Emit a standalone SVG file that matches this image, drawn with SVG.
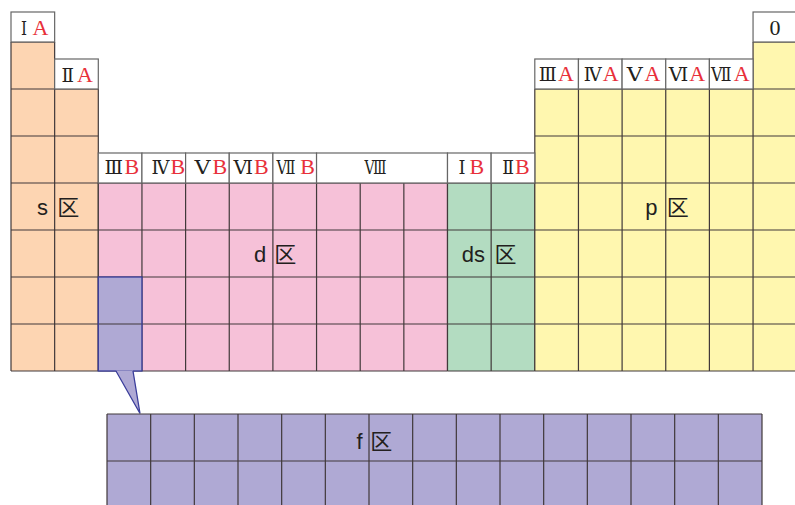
<svg xmlns="http://www.w3.org/2000/svg" width="795" height="505" viewBox="0 0 795 505">
  <style>
    .s { fill: #FDD5B2; }
    .d { fill: #F6C1D8; }
    .ds { fill: #B3DCC1; }
    .p { fill: #FFF7AF; }
    .f { fill: #AFA9D4; }
    .grid { fill: none; stroke: #41393a; stroke-width: 1.2; }
    .hdr { fill: #ffffff; stroke: #666666; stroke-width: 1.2; }
    .h { font-family: "Liberation Serif", "Times New Roman", serif; font-size: 22px; fill: #231f20; }
    .num { font-family: "DejaVu Serif", "Liberation Serif", serif; font-size: 19px; fill: #231f20; }
    .grp { fill: #e8303a; }
    .lbl { font-family: "Liberation Sans", "Noto Sans CJK SC", sans-serif; font-size: 22px; fill: #231f20; }
    .blue { fill: none; stroke: #3a3d9b; stroke-width: 1.3; }
  </style>

  <!-- s block -->
  <g id="s-block">
    <polygon class="s" points="11,42 54.65,42 54.65,89 98.3,89 98.3,371 11,371"/>
    <path class="grid" d="M11,42V371M54.65,42V371M98.3,89V371
      M11,42H54.65M11,89H98.3M11,136H98.3M11,183H98.3M11,230H98.3M11,277H98.3M11,324H98.3M11,371H98.3"/>
    <text class="lbl" x="37" y="215">s <tspan dx="3">区</tspan></text>
  </g>

  <!-- d block -->
  <g id="d-block">
    <rect class="d" x="98.3" y="183" width="349.2" height="188"/>
    <path class="grid" d="M98.3,183V371M141.95,183V371M185.6,183V371M229.25,183V371M272.9,183V371M316.55,183V371M360.2,183V371M403.85,183V371M447.5,183V371
      M98.3,183H447.5M98.3,230H447.5M98.3,277H447.5M98.3,324H447.5M98.3,371H447.5"/>
    <text class="lbl" x="254" y="262">d <tspan dx="2">区</tspan></text>
  </g>

  <!-- ds block -->
  <g id="ds-block">
    <rect class="ds" x="447.5" y="183" width="87.3" height="188"/>
    <path class="grid" d="M447.5,183V371M491.15,183V371M534.8,183V371
      M447.5,183H534.8M447.5,230H534.8M447.5,277H534.8M447.5,324H534.8M447.5,371H534.8"/>
    <text class="lbl" x="461.7" y="262">ds <tspan dx="3.5">区</tspan></text>
  </g>

  <!-- p block -->
  <g id="p-block">
    <polygon class="p" points="534.8,89 753.05,89 753.05,42 796.7,42 796.7,371 534.8,371"/>
    <path class="grid" d="M534.8,89V371M578.45,89V371M622.1,89V371M665.75,89V371M709.4,89V371M753.05,42V371
      M753.05,42H796.7M534.8,89H796.7M534.8,136H796.7M534.8,183H796.7M534.8,230H796.7M534.8,277H796.7M534.8,324H796.7M534.8,371H796.7"/>
    <text class="lbl" x="645.3" y="215">p <tspan dx="3">区</tspan></text>
  </g>

  <!-- lanthanide / actinide cells in group IIIB -->
  <g id="la-ac">
    <rect class="f" x="98.3" y="277" width="43.65" height="94"/>
    <path class="grid" d="M98.3,324H141.95"/>
    <rect class="blue" x="98.3" y="277" width="43.65" height="94"/>
  </g>

  <!-- group headers: roman numeral followed by the red subgroup letter -->
  <g id="headers">
    <rect class="hdr" x="11" y="12" width="43.65" height="30"/>
    <rect class="hdr" x="54.65" y="59" width="43.65" height="30"/>
    <rect class="hdr" x="98.3" y="153" width="43.65" height="30"/>
    <rect class="hdr" x="141.95" y="153" width="43.65" height="30"/>
    <rect class="hdr" x="185.6" y="153" width="43.65" height="30"/>
    <rect class="hdr" x="229.25" y="153" width="43.65" height="30"/>
    <rect class="hdr" x="272.9" y="153" width="43.65" height="30"/>
    <rect class="hdr" x="316.55" y="153" width="130.95" height="30"/>
    <rect class="hdr" x="447.5" y="153" width="43.65" height="30"/>
    <rect class="hdr" x="491.15" y="153" width="43.65" height="30"/>
    <rect class="hdr" x="534.8" y="59" width="43.65" height="30"/>
    <rect class="hdr" x="578.45" y="59" width="43.65" height="30"/>
    <rect class="hdr" x="622.1" y="59" width="43.65" height="30"/>
    <rect class="hdr" x="665.75" y="59" width="43.65" height="30"/>
    <rect class="hdr" x="709.4" y="59" width="43.65" height="30"/>
    <rect class="hdr" x="753.05" y="12" width="43.65" height="30"/>

    <text class="h" x="21" y="35"><tspan class="num" textLength="6" lengthAdjust="spacingAndGlyphs">Ⅰ</tspan><tspan class="grp" x="32.5">A</tspan></text>
    <text class="h" x="61.5" y="81.5"><tspan class="num" textLength="12.5" lengthAdjust="spacingAndGlyphs">Ⅱ</tspan><tspan class="grp" x="77">A</tspan></text>

    <text class="h" x="104.5" y="174"><tspan class="num" textLength="18.5" lengthAdjust="spacingAndGlyphs">Ⅲ</tspan><tspan class="grp" x="124.5">B</tspan></text>
    <text class="h" x="151.5" y="174"><tspan class="num" textLength="18" lengthAdjust="spacingAndGlyphs">Ⅳ</tspan><tspan class="grp" x="170.5">B</tspan></text>
    <text class="h" x="194.5" y="174"><tspan class="num" textLength="16" lengthAdjust="spacingAndGlyphs">Ⅴ</tspan><tspan class="grp" x="212.5">B</tspan></text>
    <text class="h" x="233.5" y="174"><tspan class="num" textLength="19.5" lengthAdjust="spacingAndGlyphs">Ⅵ</tspan><tspan class="grp" x="254">B</tspan></text>
    <text class="h" x="276.5" y="174"><tspan class="num" textLength="19" lengthAdjust="spacingAndGlyphs">Ⅶ</tspan><tspan class="grp" x="300.2">B</tspan></text>
    <text class="h" x="364.5" y="174"><tspan class="num" textLength="22" lengthAdjust="spacingAndGlyphs">Ⅷ</tspan></text>
    <text class="h" x="458.5" y="174"><tspan class="num" textLength="7" lengthAdjust="spacingAndGlyphs">Ⅰ</tspan><tspan class="grp" x="469.5">B</tspan></text>
    <text class="h" x="502.2" y="174"><tspan class="num" textLength="11.8" lengthAdjust="spacingAndGlyphs">Ⅱ</tspan><tspan class="grp" x="515">B</tspan></text>

    <text class="h" x="538.8" y="81"><tspan class="num" textLength="18" lengthAdjust="spacingAndGlyphs">Ⅲ</tspan><tspan class="grp" x="558">A</tspan></text>
    <text class="h" x="583.8" y="81"><tspan class="num" textLength="18" lengthAdjust="spacingAndGlyphs">Ⅳ</tspan><tspan class="grp" x="602.8">A</tspan></text>
    <text class="h" x="626.8" y="81"><tspan class="num" textLength="16" lengthAdjust="spacingAndGlyphs">Ⅴ</tspan><tspan class="grp" x="644.6">A</tspan></text>
    <text class="h" x="668.8" y="81"><tspan class="num" textLength="19.5" lengthAdjust="spacingAndGlyphs">Ⅵ</tspan><tspan class="grp" x="689.3">A</tspan></text>
    <text class="h" x="711" y="81"><tspan class="num" textLength="20.5" lengthAdjust="spacingAndGlyphs">Ⅶ</tspan><tspan class="grp" x="733.8">A</tspan></text>

    <text class="h" x="769.5" y="35">0</text>
  </g>

  <!-- callout pointer from the IIIB cells down to the f block -->
  <g id="connectors">
    <polygon class="f" points="116,370.5 133,370.5 140,413.5"/>
    <polyline class="blue" points="116,371 140,413.5 133,371"/>
  </g>

  <!-- f block -->
  <g id="f-block">
    <rect class="f" x="107" y="414" width="655" height="95"/>
    <path class="grid" d="M107,414V509M150.67,414V509M194.33,414V509M238,414V509M281.67,414V509M325.33,414V509M369,414V509M412.67,414V509
      M456.33,414V509M500,414V509M543.67,414V509M587.33,414V509M631,414V509M674.67,414V509M718.33,414V509M762,414V509
      M107,414H762M107,461H762"/>
    <text class="lbl" x="356.5" y="449">f <tspan dx="1.5">区</tspan></text>
  </g>
</svg>
